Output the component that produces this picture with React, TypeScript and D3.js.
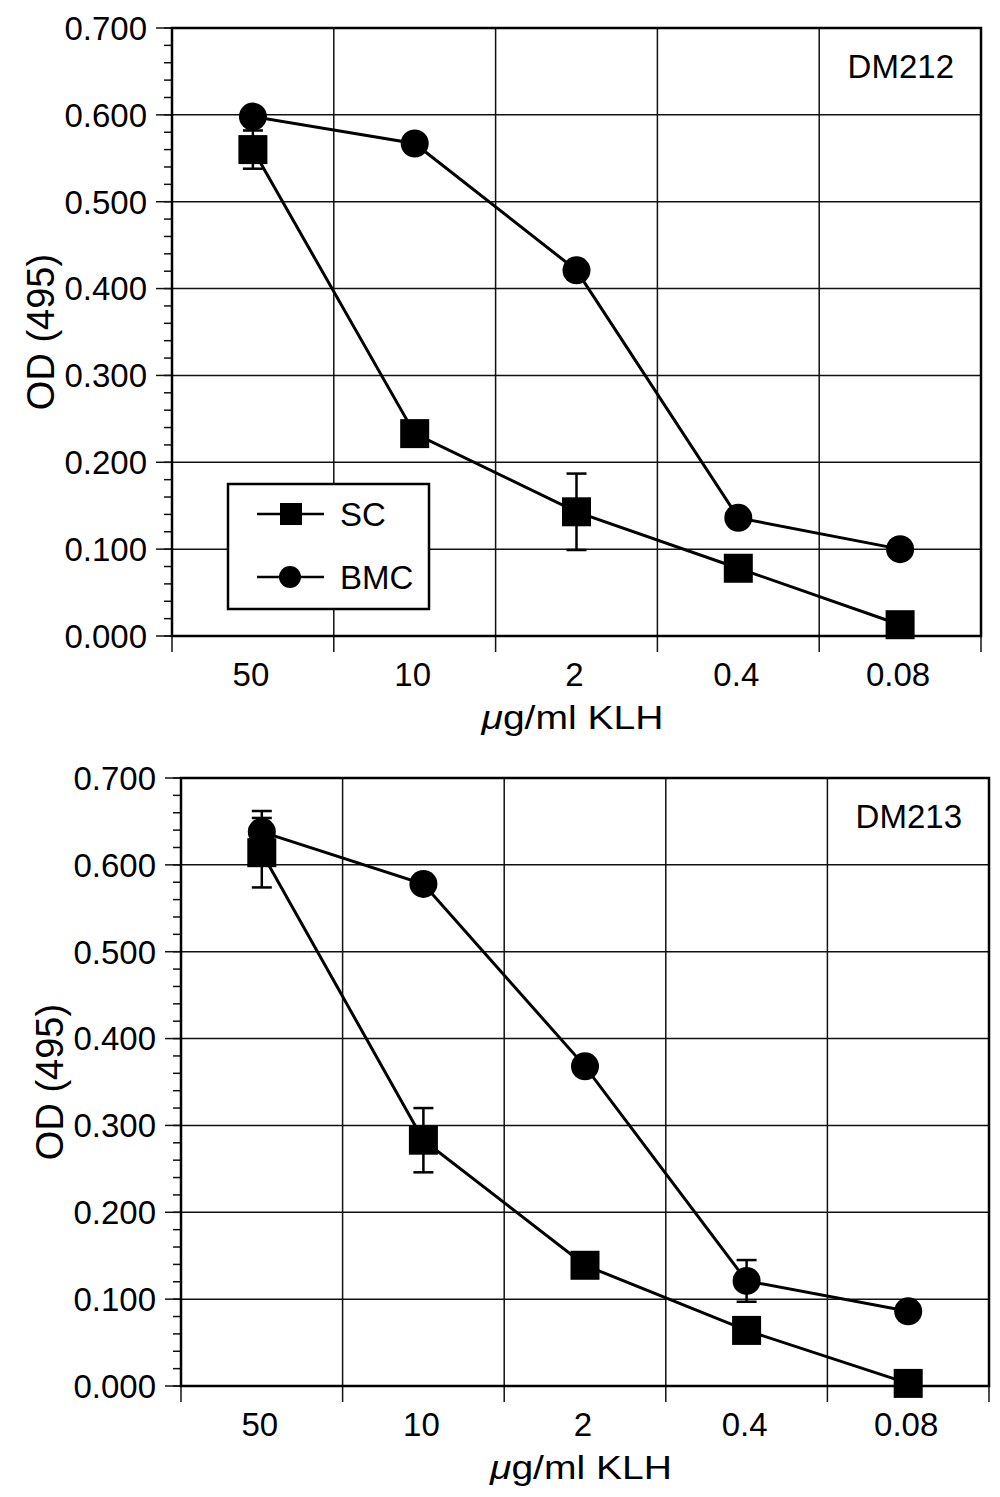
import React from "react";
import * as d3 from "d3";

// ---- data ----
const doses = ["50", "10", "2", "0.4", "0.08"];
const yTickValues = [0, 0.1, 0.2, 0.3, 0.4, 0.5, 0.6, 0.7];
const seriesNames = ["SC", "BMC"];

const dm212SC = [0.56, 0.233, 0.143, 0.078, 0.013];
const dm212SCErr = [0.022, 0, 0.044, 0, 0];
const dm212BMC = [0.598, 0.567, 0.421, 0.136, 0.1];
const dm212BMCErr = [0, 0, 0, 0, 0];

const dm213SC = [0.614, 0.283, 0.139, 0.064, 0.003];
const dm213SCErr = [0.04, 0.037, 0, 0, 0];
const dm213BMC = [0.638, 0.578, 0.368, 0.121, 0.086];
const dm213BMCErr = [0.024, 0, 0, 0.024, 0];

const FONT = "'Liberation Sans', Arial, Helvetica, sans-serif";

type PanelProps = {
  left: number;
  right: number;
  top: number;
  bottom: number;
  label: string;
  sc: number[];
  scErr: number[];
  bmc: number[];
  bmcErr: number[];
  legend: boolean;
};

function Panel({ left, right, top, bottom, label, sc, scErr, bmc, bmcErr, legend }: PanelProps) {
  const x = d3.scaleBand<string>().domain(doses).range([left, right]).padding(0);
  const y = d3.scaleLinear().domain([0, 0.7]).range([bottom, top]);
  const bw = x.bandwidth();
  const cx = (d: string) => (x(d) as number) + bw / 2;
  const boundaries = doses.map((d) => x(d) as number).concat([right]);
  const minorTicks = d3.range(0, 0.7001, 0.02);
  const line = d3
    .line<number>()
    .x((_, i) => cx(doses[i]))
    .y((v) => y(v));
  const fmt = d3.format(".3f");

  const sq = 29;
  const r = 14;

  const errBars = (vals: number[], errs: number[], key: string) =>
    vals.map((v, i) =>
      errs[i] > 0 ? (
        <g key={key + i} stroke="#000" strokeWidth={2.5}>
          <line x1={cx(doses[i])} x2={cx(doses[i])} y1={y(v + errs[i])} y2={y(v - errs[i])} />
          <line x1={cx(doses[i]) - 10} x2={cx(doses[i]) + 10} y1={y(v + errs[i])} y2={y(v + errs[i])} />
          <line x1={cx(doses[i]) - 10} x2={cx(doses[i]) + 10} y1={y(v - errs[i])} y2={y(v - errs[i])} />
        </g>
      ) : null
    );

  const midX = (left + right) / 2;
  const midY = (top + bottom) / 2;

  // legend geometry
  const lgX = left + 56;
  const lgY = bottom - 152;
  const lgW = 201;
  const lgH = 125;

  return (
    <g>
      {/* horizontal grid */}
      {yTickValues.slice(1, -1).map((t) => (
        <line key={"h" + t} x1={left} x2={right} y1={y(t)} y2={y(t)} stroke="#111" strokeWidth={1.5} />
      ))}
      {/* vertical grid */}
      {boundaries.slice(1, -1).map((b, i) => (
        <line key={"v" + i} x1={b} x2={b} y1={top} y2={bottom} stroke="#111" strokeWidth={1.5} />
      ))}
      {/* y minor ticks */}
      {minorTicks.map((t, i) => (
        <line key={"m" + i} x1={left - 8} x2={left} y1={y(t)} y2={y(t)} stroke="#111" strokeWidth={1.5} />
      ))}
      {/* y major ticks + labels */}
      {yTickValues.map((t) => (
        <g key={"yt" + t}>
          <line x1={left - 16} x2={left} y1={y(t)} y2={y(t)} stroke="#111" strokeWidth={1.5} />
          <text
            x={left - 25}
            y={y(t)}
            dy="0.36em"
            textAnchor="end"
            fontSize={33}
            fontFamily={FONT}
            fill="#000"
          >
            {fmt(t)}
          </text>
        </g>
      ))}
      {/* x ticks */}
      {boundaries.map((b, i) => (
        <line key={"xt" + i} x1={b} x2={b} y1={bottom} y2={bottom + 16} stroke="#111" strokeWidth={1.5} />
      ))}
      {doses.map((d) => (
        <text key={"xl" + d} x={cx(d) - 2} y={bottom + 50} textAnchor="middle" fontSize={33} fontFamily={FONT} fill="#000">
          {d}
        </text>
      ))}
      {/* frame */}
      <rect x={left} y={top} width={right - left} height={bottom - top} fill="none" stroke="#000" strokeWidth={2.5} />

      {/* axis titles */}
      <text
        x={midX - 4}
        y={bottom + 93}
        textAnchor="middle"
        fontSize={34}
        fontFamily={FONT}
        fill="#000"
        textLength={182}
        lengthAdjust="spacingAndGlyphs"
      >
        <tspan fontStyle="italic">μ</tspan>g/ml KLH
      </text>
      <text
        transform={`translate(${left - 118},${midY}) rotate(-90)`}
        textAnchor="middle"
        fontSize={38}
        fontFamily={FONT}
        fill="#000"
      >
        OD (495)
      </text>

      {/* panel label */}
      <text x={right - 27} y={top + 50} textAnchor="end" fontSize={33} fontFamily={FONT} fill="#000">
        {label}
      </text>

      {/* SC series */}
      <path d={line(sc) || ""} fill="none" stroke="#000" strokeWidth={3} />
      {errBars(sc, scErr, "se")}
      {sc.map((v, i) => (
        <rect key={"sq" + i} x={cx(doses[i]) - sq / 2} y={y(v) - sq / 2} width={sq} height={sq} fill="#000" />
      ))}

      {/* BMC series */}
      <path d={line(bmc) || ""} fill="none" stroke="#000" strokeWidth={3} />
      {errBars(bmc, bmcErr, "be")}
      {bmc.map((v, i) => (
        <circle key={"c" + i} cx={cx(doses[i])} cy={y(v)} r={r} fill="#000" />
      ))}

      {legend && (
        <g>
          <rect x={lgX} y={lgY} width={lgW} height={lgH} fill="#fff" stroke="#000" strokeWidth={2.5} />
          {seriesNames.map((name, i) => {
            const ly = lgY + 30 + i * 63;
            return (
              <g key={"lg" + name}>
                <line x1={lgX + 29} x2={lgX + 96} y1={ly} y2={ly} stroke="#000" strokeWidth={2.5} />
                {i === 0 ? (
                  <rect x={lgX + 52} y={ly - 11} width={22} height={22} fill="#000" />
                ) : (
                  <circle cx={lgX + 62} cy={ly} r={11} fill="#000" />
                )}
                <text x={lgX + 112} y={ly} dy="0.36em" fontSize={33} fontFamily={FONT} fill="#000">
                  {name}
                </text>
              </g>
            );
          })}
        </g>
      )}
    </g>
  );
}

export default function App() {
  return (
    <svg
      width={1000}
      height={1497}
      style={{ position: "absolute", left: 0, top: 0, background: "#fff" }}
      xmlns="http://www.w3.org/2000/svg"
    >
      <rect x={0} y={0} width={1000} height={1497} fill="#fff" />
      <Panel
        left={172}
        right={981}
        top={28}
        bottom={636}
        label="DM212"
        sc={dm212SC}
        scErr={dm212SCErr}
        bmc={dm212BMC}
        bmcErr={dm212BMCErr}
        legend={true}
      />
      <Panel
        left={181}
        right={989}
        top={778}
        bottom={1386}
        label="DM213"
        sc={dm213SC}
        scErr={dm213SCErr}
        bmc={dm213BMC}
        bmcErr={dm213BMCErr}
        legend={false}
      />
    </svg>
  );
}
